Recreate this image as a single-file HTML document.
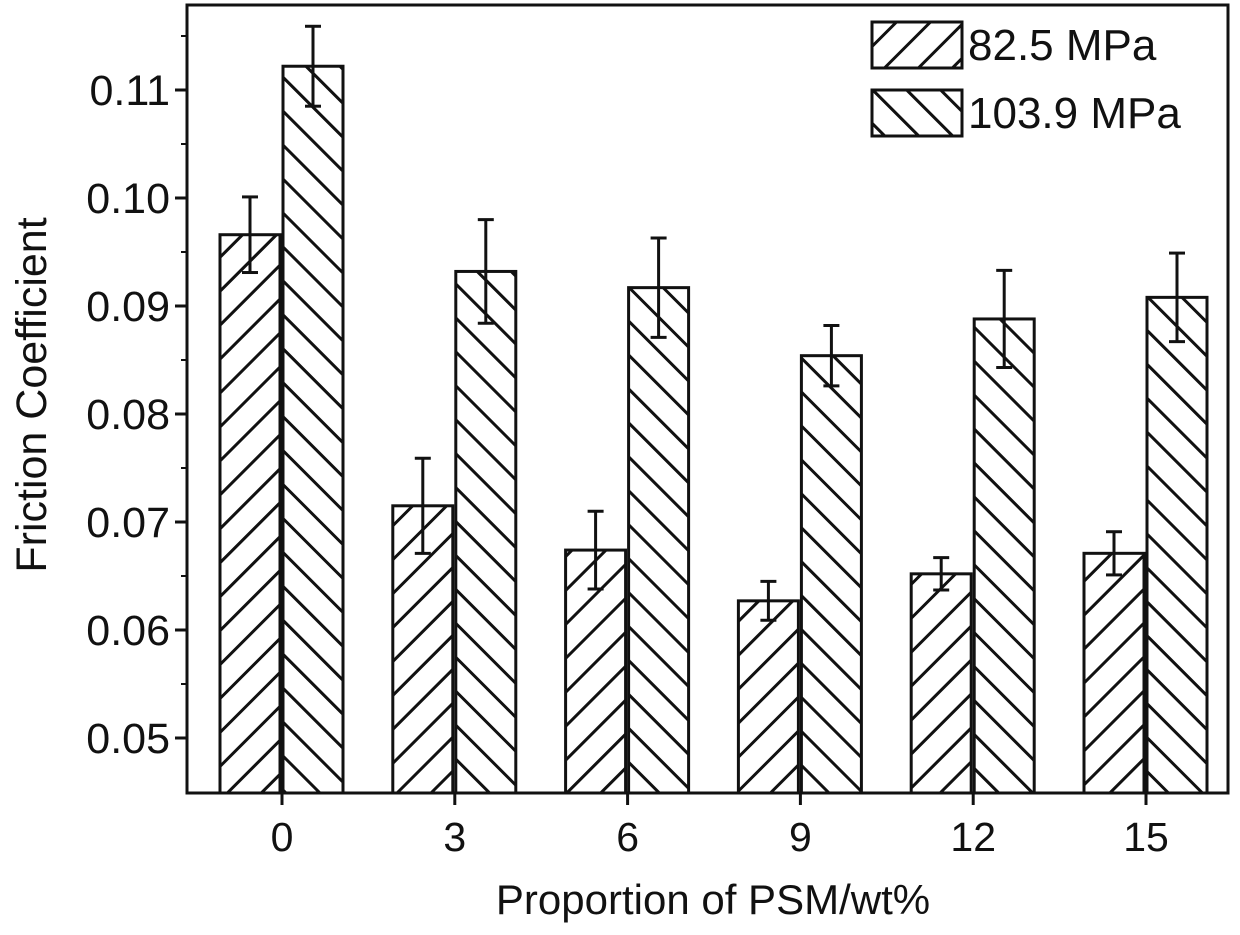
<!DOCTYPE html>
<html><head><meta charset="utf-8"><style>
body{margin:0;background:#fff}
svg text{font-family:"Liberation Sans",Arial,sans-serif;fill:#111}
</style></head><body>
<svg id="chart" width="1240" height="930" viewBox="0 0 1240 930">
<defs>
<pattern id="hatchA" patternUnits="userSpaceOnUse" width="24" height="24" patternTransform="rotate(45)">
<rect width="24" height="24" fill="#fff"/><line x1="0" y1="0" x2="0" y2="24" stroke="#111" stroke-width="6"/></pattern>
<pattern id="hatchB" patternUnits="userSpaceOnUse" width="24" height="24" patternTransform="rotate(-45)">
<rect width="24" height="24" fill="#fff"/><line x1="0" y1="0" x2="0" y2="24" stroke="#111" stroke-width="6"/></pattern>
</defs>
<g id="marks"></g>
<rect x="187" y="5" width="1041" height="788" fill="none" stroke="#111" stroke-width="3"/>
<g id="axes"></g>
<text x="713" y="914" font-size="42" text-anchor="middle">Proportion of PSM/wt%</text>
<text transform="translate(46,395) rotate(-90)" font-size="43" text-anchor="middle">Friction Coefficient</text>
<g>
<rect x="872" y="22" width="90" height="46" fill="url(#hatchA)" stroke="#111" stroke-width="3"/>
<text x="968" y="60" font-size="44">82.5 MPa</text>
<rect x="872" y="90" width="90" height="46" fill="url(#hatchB)" stroke="#111" stroke-width="3"/>
<text x="968" y="128" font-size="44">103.9 MPa</text>
</g>
</svg>
<script>
const categories=["0","3","6","9","12","15"];
const series825=[0.0966,0.0715,0.0674,0.0627,0.0652,0.0671];
const err825=[0.0035,0.0044,0.0036,0.0018,0.0015,0.0020];
const series1039=[0.1122,0.0932,0.0917,0.0854,0.0888,0.0908];
const err1039=[0.0037,0.0048,0.0046,0.0028,0.0045,0.0041];
const yTicks=[0.05,0.06,0.07,0.08,0.09,0.10,0.11];
const yTickLabels=["0.05","0.06","0.07","0.08","0.09","0.10","0.11"];
const NS="http://www.w3.org/2000/svg";
const y=v=>738-(v-0.05)/0.01*108;
const x=i=>282+i*172.8;
const bottom=793;
function mk(t,a,p){const e=document.createElementNS(NS,t);for(const k in a)e.setAttribute(k,a[k]);p.appendChild(e);return e;}
const marks=document.getElementById('marks'),axes=document.getElementById('axes');
function bar(cx,v,er,fill,name){
  const r=mk('rect',{x:cx,y:y(v),width:60,height:bottom-y(v),fill:fill,stroke:'#111','stroke-width':3},marks);
  
  
  const g=mk('g',{stroke:'#111','stroke-width':3},marks);
  
  
  const m=cx+30;
  mk('line',{x1:m,x2:m,y1:y(v+er),y2:y(v-er)},g);
  mk('line',{x1:m-8,x2:m+8,y1:y(v+er),y2:y(v+er)},g);
  mk('line',{x1:m-8,x2:m+8,y1:y(v-er),y2:y(v-er)},g);
}
categories.forEach((c,i)=>{
  bar(x(i)-62,series825[i],err825[i],'url(#hatchA)','bar-82-5-'+c);
  bar(x(i)+1,series1039[i],err1039[i],'url(#hatchB)','bar-103-9-'+c);
  const t=mk('line',{x1:x(i),x2:x(i),y1:bottom,y2:bottom+12,stroke:'#111','stroke-width':3},axes);
  
  
  const l=mk('text',{x:x(i),y:851,'font-size':41,'text-anchor':'middle'},axes);
  
  
  l.textContent=c;
});
yTicks.forEach((v,i)=>{
  const t=mk('line',{x1:175,x2:187,y1:y(v),y2:y(v),stroke:'#111','stroke-width':3},axes);
  
  
  const m=mk('line',{x1:181,x2:187,y1:y(v+0.005),y2:y(v+0.005),stroke:'#111','stroke-width':2},axes);
  
  
  const l=mk('text',{x:170,y:y(v)+15,'font-size':43,'text-anchor':'end'},axes);
  
  
  l.textContent=yTickLabels[i];
});
</script>
</body></html>
